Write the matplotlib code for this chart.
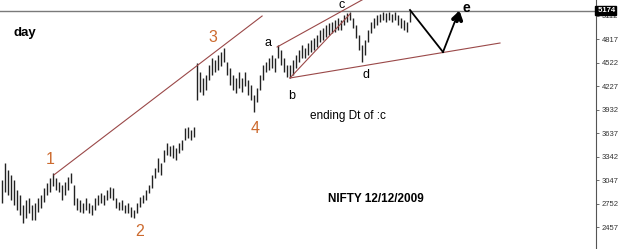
import numpy as np
import matplotlib
matplotlib.use('Agg')
import matplotlib.pyplot as plt

plt.rcParams['font.family'] = ['Liberation Sans', 'DejaVu Sans']

# daily highs / lows (NIFTY), one bar per trading day
highs = [3048, 3260, 3173, 3111, 3048, 2922, 2860, 2734, 2797, 2822,
         2734, 2760, 2822, 2860, 2947, 3010, 3073, 3136, 3073, 3022,
         2985, 3022, 3085, 3136, 2985, 2822, 2797, 2760, 2822, 2760,
         2734, 2822, 2860, 2885,
         2860, 2922, 2960, 2947, 2822, 2772, 2797, 2734, 2760, 2709,
         2671, 2760, 2835, 2860, 2922, 2985, 3111, 3198, 3324, 3261,
         3424, 3512, 3474, 3487, 3449, 3512, 3550, 3700, 3713, 3675,
         3713,
         4516, 4404, 4328, 4366, 4491, 4579, 4554, 4617, 4654, 4705,
         4529, 4454, 4366, 4328, 4404, 4328, 4404, 4303, 4240, 4115,
         4203, 4366, 4491, 4529, 4579, 4617, 4579, 4742, 4680, 4579,
         4491, 4491, 4554, 4617, 4680, 4742, 4705, 4767, 4805, 4830,
         4868, 4930, 4955, 4993, 5018, 5031, 5056, 5081, 5056, 5119,
         5144, 5156, 5081, 4993, 4868, 4742, 4805, 4930, 5031, 5081,
         5119, 5131, 5156, 5144, 5156, 5131, 5156, 5119, 5081, 5056,
         5031, 5181]
lows = [2760, 2897, 2860, 2797, 2734, 2671, 2609, 2508, 2571, 2634,
        2546, 2546, 2646, 2696, 2772, 2860, 2897, 2973, 2922, 2897,
        2797, 2860, 2922, 3010, 2734, 2671, 2646, 2634, 2671, 2634,
        2609, 2671, 2734, 2760,
        2734, 2797, 2822, 2797, 2696, 2671, 2671, 2634, 2634, 2584,
        2571, 2634, 2709, 2760, 2797, 2885, 2947, 3073, 3148, 3111,
        3274, 3362, 3349, 3324, 3299, 3387, 3424, 3550, 3575, 3550,
        3587,
        4052, 4152, 4115, 4177, 4303, 4366, 4404, 4429, 4479, 4529,
        4366, 4240, 4177, 4140, 4203, 4152, 4228, 4115, 4052, 3901,
        4027, 4177, 4303, 4404, 4429, 4454, 4404, 4579, 4491, 4404,
        4341, 4328, 4366, 4454, 4529, 4579, 4579, 4617, 4654, 4680,
        4717, 4780, 4805, 4843, 4868, 4893, 4905, 4930, 4930, 4993,
        5031, 5056, 4955, 4830, 4680, 4529, 4617, 4780, 4893, 4955,
        4993, 5031, 5056, 5031, 5056, 5031, 5056, 4993, 4955, 4930,
        4905, 5031]
days = np.arange(len(highs))

# hand-drawn trendlines (day, price) pairs
line_1_3 = ([17.3, 86.7], [3111, 5106])
line_a_c = ([91.7, 123.0], [4717, 5370])
line_b_c = ([96.0, 116.0], [4328, 5131])
line_b_e = ([96.0, 166.0], [4328, 4767])
# projected path to e
proj_days = [136.0, 147.0]
proj_price = [5181, 4654]
arrow_tip = (152.7, 5207)

last_price = 5174
yticks = [2457, 2752, 3047, 3342, 3637, 3932, 4227, 4522, 4817, 5112]

wave_labels = ['1', '2', '3', '4']
wave_pos = [(16.0, 3299), (46.0, 2395), (70.3, 4830), (84.3, 3700)]
abc_labels = ['a', 'b', 'c', 'd']
abc_pos = [(88.7, 4767), (96.7, 4102), (113.3, 5244), (121.3, 4366)]

fig = plt.figure(figsize=(6.25, 2.49), dpi=100)
ax = fig.add_axes([0, 0, 596 / 625, 1])
ax.set_xlim(-0.667, 198)
ax.set_ylim(2181, 5307)

ax.vlines(days, lows, highs, color='#222222', lw=1.0)

ax.axhline(last_price, color='#7a7a7a', lw=1)

trend_col = '#9a4848'
for xs, ys in [line_1_3, line_a_c, line_b_c, line_b_e]:
    ax.plot(xs, ys, color=trend_col, lw=0.8)

ax.plot(proj_days, proj_price, color='black', lw=1.3)
ax.plot([proj_days[1], arrow_tip[0] - 0.6], [proj_price[1], arrow_tip[1] - 60],
        color='black', lw=1.3)
ax.annotate('', xy=arrow_tip, xytext=(arrow_tip[0] - 1.3, arrow_tip[1] - 200),
            arrowprops=dict(arrowstyle='->,head_length=0.45,head_width=0.3',
                            lw=2.8, color='black'))
ax.text(154.7, 5212, 'e', fontsize=10, fontweight='bold', ha='center', va='center')

for lab, (x, y) in zip(wave_labels, wave_pos):
    ax.text(x, y, lab, fontsize=11.5, color='#cc6a2e', ha='center', va='center')
for lab, (x, y) in zip(abc_labels, abc_pos):
    ax.text(x, y, lab, fontsize=9, color='black', ha='center', va='center')

ax.text(14 / 596, 1 - 33 / 249, 'day', transform=ax.transAxes, fontsize=9.5,
        fontweight='bold', ha='left', va='center')
ax.text(348 / 596, 1 - 116 / 249, 'ending Dt of :c', transform=ax.transAxes,
        fontsize=8.5, ha='center', va='center')
ax.text(376 / 596, 1 - 199 / 249, 'NIFTY 12/12/2009', transform=ax.transAxes,
        fontsize=8.5, fontweight='bold', ha='center', va='center')

for s in ['left', 'top', 'bottom']:
    ax.spines[s].set_visible(False)
ax.spines['right'].set_color('#555555')
ax.set_xticks([])
ax.yaxis.tick_right()
ax.set_yticks(yticks)
ax.set_yticklabels([str(v) for v in yticks])
ax.tick_params(axis='y', direction='out', length=2.5, width=0.6, colors='#555555',
               labelsize=5.5, labelcolor='#333333', pad=1.5)
ax.text(1.0, last_price, ' ' + str(last_price), transform=ax.get_yaxis_transform(),
        fontsize=5.5, color='white', fontweight='bold', ha='left', va='center',
        bbox=dict(boxstyle='square,pad=0.15', fc='black', ec='black'), clip_on=False)

fig.savefig('out.png', dpi=100, facecolor='white')
